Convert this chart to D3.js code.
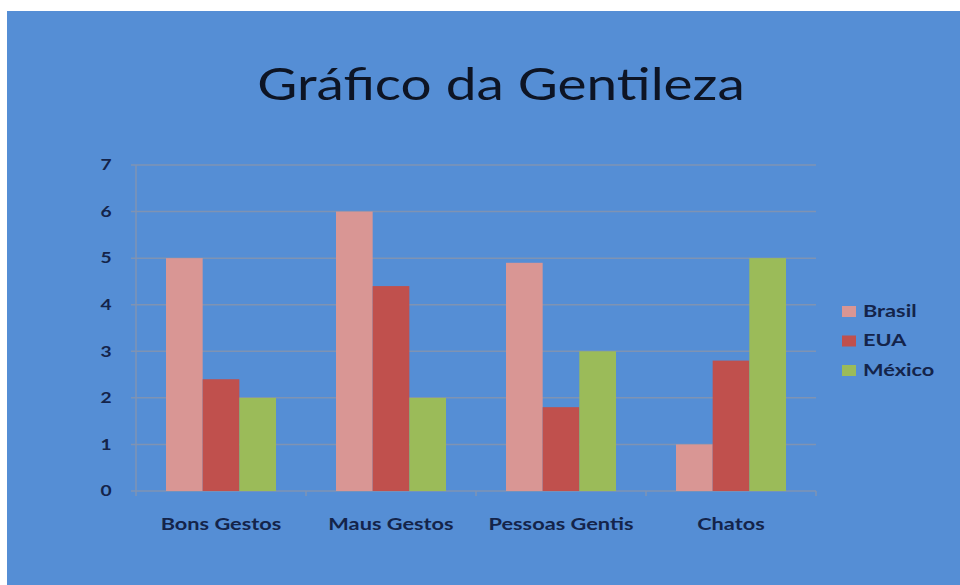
<!DOCTYPE html>
<html>
<head>
<meta charset="utf-8">
<script src="https://cdn.jsdelivr.net/npm/d3@7"></script>
<style>
  html, body { margin: 0; padding: 0; background: #ffffff; }
  svg { display: block; }
</style>
</head>
<body>
<div id="chart"></div>
<script>
// Dados do gráfico
const categorias = ["Bons Gestos", "Maus Gestos", "Pessoas Gentis", "Chatos"];
const series = ["Brasil", "EUA", "México"];
const brasil = [5, 6, 4.9, 1];
const eua = [2.4, 4.4, 1.8, 2.8];
const mexico = [2, 2, 3, 5];
const yTicks = [0, 1, 2, 3, 4, 5, 6, 7];
const cores = ["#d99694", "#c0504d", "#9bbb59"];

const valores = [brasil, eua, mexico];

const width = 960, height = 585;
const margin = { top: 165, left: 136, right: 144, bottom: 94 };
const plotW = width - margin.left - margin.right;   // 680
const plotH = height - margin.top - margin.bottom;  // 326

const fonte = "Lato, 'Open Sans', sans-serif";
const corTexto = "#14244a";
const esticar = 1.28; // o texto do slide original é mais largo

const svg = d3.select("#chart").append("svg")
    .attr("width", width)
    .attr("height", height);

// fundo azul do slide
svg.append("rect")
    .attr("x", 7).attr("y", 11)
    .attr("width", width - 7).attr("height", height - 11)
    .attr("fill", "#558ed5");

// Título
svg.append("text")
    .attr("transform", `translate(501,100) scale(1.22,1)`)
    .attr("text-anchor", "middle")
    .attr("font-family", fonte)
    .attr("font-size", "45px")
    .attr("fill", "#0d1424")
    .text("Gráfico da Gentileza");

const g = svg.append("g")
    .attr("transform", `translate(${margin.left},${margin.top})`);

const x0 = d3.scaleBand()
    .domain(categorias)
    .range([0, plotW])
    .paddingInner(0.353)
    .paddingOuter(0.1765);

const x1 = d3.scaleBand()
    .domain(series)
    .range([0, x0.bandwidth()]);

const y = d3.scaleLinear()
    .domain([0, 7])
    .range([plotH, 0]);

const gridCor = "#7f93b3";

// linhas de grade
g.selectAll(".grid")
    .data(yTicks)
    .enter()
    .append("line")
    .attr("x1", -5)
    .attr("x2", plotW)
    .attr("y1", d => y(d))
    .attr("y2", d => y(d))
    .attr("stroke", gridCor)
    .attr("stroke-width", 1.5);

// eixo vertical
g.append("line")
    .attr("x1", 0).attr("x2", 0)
    .attr("y1", 0).attr("y2", plotH)
    .attr("stroke", gridCor)
    .attr("stroke-width", 1.5);

// marcas entre categorias
const divisoes = d3.range(categorias.length + 1).map(i => i * x0.step());
g.selectAll(".xtick")
    .data(divisoes)
    .enter()
    .append("line")
    .attr("x1", d => d).attr("x2", d => d)
    .attr("y1", plotH).attr("y2", plotH + 5)
    .attr("stroke", gridCor)
    .attr("stroke-width", 1.5);

// barras
const grupos = g.selectAll(".grupo")
    .data(categorias)
    .enter()
    .append("g")
    .attr("transform", d => `translate(${x0(d)},0)`);

grupos.selectAll("rect")
    .data((d, i) => series.map((s, j) => ({ serie: s, valor: valores[j][i], cor: cores[j] })))
    .enter()
    .append("rect")
    .attr("x", d => x1(d.serie))
    .attr("y", d => y(d.valor))
    .attr("width", x1.bandwidth())
    .attr("height", d => plotH - y(d.valor))
    .attr("fill", d => d.cor);

// rótulos do eixo Y
g.selectAll(".ylabel")
    .data(yTicks)
    .enter()
    .append("text")
    .attr("transform", d => `translate(-30,${y(d)}) scale(${esticar},1)`)
    .attr("dy", "0.35em")
    .attr("text-anchor", "middle")
    .attr("font-family", fonte)
    .attr("font-weight", "bold")
    .attr("font-size", "15px")
    .attr("fill", corTexto)
    .text(d => d);

// rótulos do eixo X
g.selectAll(".xlabel")
    .data(categorias)
    .enter()
    .append("text")
    .attr("transform", d => `translate(${x0(d) + x0.bandwidth() / 2},${plotH + 39}) scale(${esticar},1)`)
    .attr("text-anchor", "middle")
    .attr("font-family", fonte)
    .attr("font-weight", "bold")
    .attr("font-size", "17px")
    .attr("fill", corTexto)
    .text(d => d);

// legenda
const legenda = svg.append("g")
    .attr("transform", "translate(842,311)");

const itens = legenda.selectAll(".item")
    .data(series)
    .enter()
    .append("g")
    .attr("transform", (d, i) => `translate(0,${i * 29.5})`);

itens.append("rect")
    .attr("x", 0).attr("y", -5)
    .attr("width", 14).attr("height", 11)
    .attr("fill", (d, i) => cores[i]);

itens.append("text")
    .attr("transform", `translate(21,0) scale(${esticar},1)`)
    .attr("dy", "0.35em")
    .attr("font-family", fonte)
    .attr("font-weight", "bold")
    .attr("font-size", "17px")
    .attr("fill", corTexto)
    .text(d => d);
</script>
</body>
</html>
